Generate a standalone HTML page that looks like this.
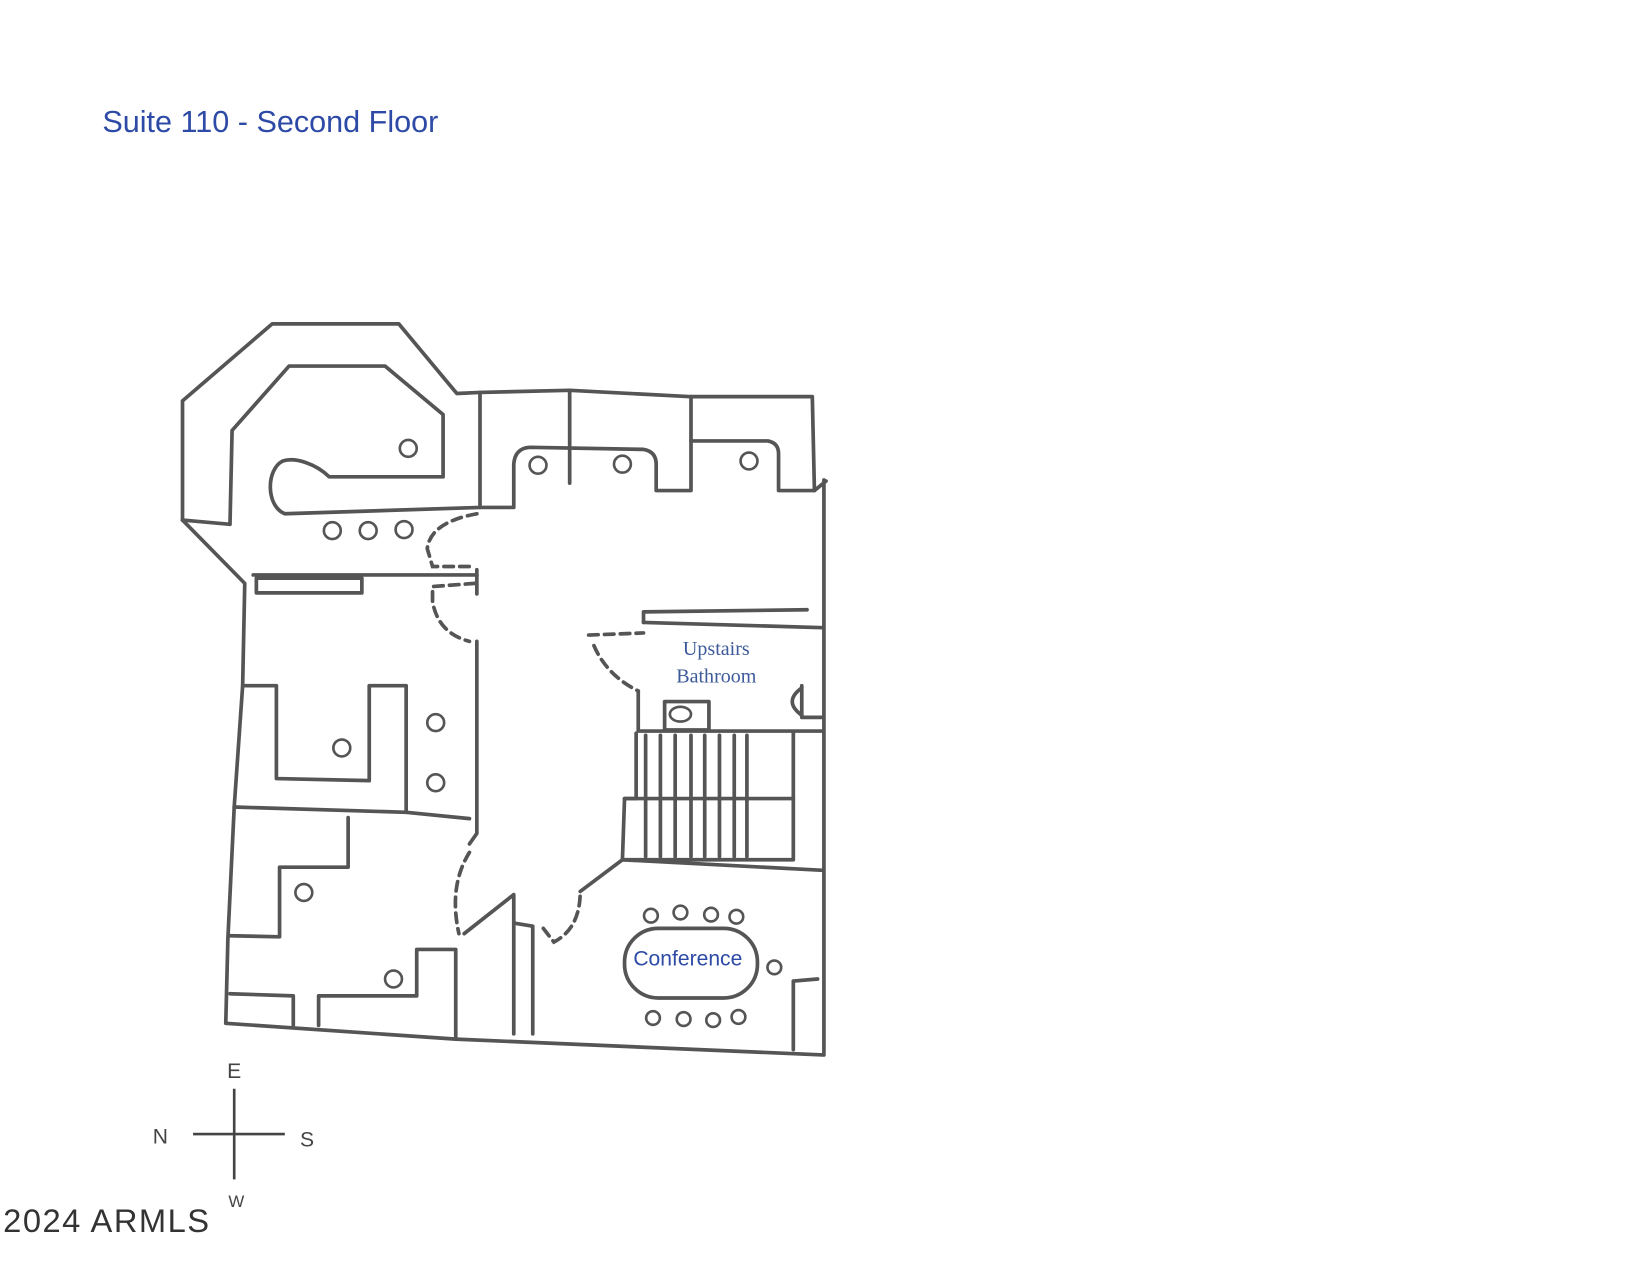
<!DOCTYPE html>
<html><head><meta charset="utf-8"><style>
html,body{margin:0;padding:0;background:#fff;}
svg{display:block;}
</style></head><body>
<svg width="1651" height="1275" viewBox="0 0 1565 1208.6" xmlns="http://www.w3.org/2000/svg">
<rect width="1565" height="1209" fill="#fff"/>
<text x="97" y="125" font-family="Liberation Sans, sans-serif" font-size="29" fill="#2d4aa6">Suite 110 - Second Floor</text>
<g fill="none" stroke="#555" stroke-width="3.5" stroke-linejoin="round" stroke-linecap="round">
<path d="M173,493 L173,380 L258,307 L378,307 L433,373 L455,372 L540,370 L655,376 L770,376 L772,465"/>
<path d="M173,493 L232,553 L230,650 L222,765 L216,890 L214,970 L432,985 L780,1000"/>
<path d="M173,493 L218,497 L220,408 L274,347 L365,347 L420,393 L420,452 L312,452 C300,440 280,433 268,437 C252,445 252,480 270,487 L455,481"/>
<path d="M455,372 L455,481 L487,481 L487,440 Q488,425 502,424 L610,426 Q622,428 622,440 L622,465 L655,465 L655,418 L728,418 Q738,420 738,430 L738,465 L772,465 L783,456"/>
<path d="M540,370 L540,458"/>
<path d="M655,376 L655,418"/>
<path d="M781,455 L781,1000"/>
<path d="M240,545 L452,545"/>
<rect x="243" y="548" width="100" height="14"/>
<path d="M452,540 L452,563"/>
<path d="M452,608 L452,790 L445,800"/>
<path d="M440,885 L487,848 L487,980"/>
<path d="M487,875 L505,878 L505,980"/>
<path d="M550,845 L590,815 L780,825"/>
<path d="M230,650 L262,650 L262,738 L350,740 L350,650 L385,650 L385,770"/>
<path d="M222,765 L385,770 L445,776"/>
<path d="M330,775 L330,822 L265,822 L265,888 L218,887"/>
<path d="M218,942 L278,944 L278,972"/>
<path d="M302,972 L302,944 L395,944 L395,900 L432,900 L432,985"/>
<path d="M610,590 L610,580 L765,578"/>
<path d="M610,590 L780,595"/>
<path d="M605,655 L605,693 L780,693"/>
<rect x="630" y="665" width="42" height="27"/>
<path d="M760,650 L760,680 L780,680"/>
<path d="M760,652 Q742,665 760,678"/>
<path d="M603,695 L603,757 L592,757 L590,815 L752,815 L752,695"/>
<path d="M592,757 L752,757"/>
<path d="M612,697 L612,812 M626,697 L626,812 M640,697 L640,812 M655,697 L655,812 M668,697 L668,812 M682,697 L682,812 M696,697 L696,812 M708,697 L708,812"/>
<path d="M752,995 L752,930 L775,928"/>
<rect x="592" y="880" width="126" height="66" rx="32"/>
</g>
<g fill="none" stroke="#555" stroke-width="3.5" stroke-dasharray="9,6" stroke-linecap="round">
<path d="M452,487 Q408,495 405,520 L410,537 L450,537"/>
<path d="M450,553 L410,556 L410,570 Q415,600 445,608"/>
<path d="M445,808 Q425,840 435,885"/>
<path d="M515,880 L525,893 Q550,880 550,845"/>
<path d="M558,602 L610,600"/>
<path d="M563,612 Q575,640 605,655"/>
</g>
<g fill="#fff" stroke="#555" stroke-width="2.5">
<circle cx="387" cy="425" r="8"/><circle cx="315" cy="503" r="8"/><circle cx="349" cy="503" r="8"/><circle cx="383" cy="502" r="8"/>
<circle cx="510" cy="441" r="8"/><circle cx="590" cy="440" r="8"/><circle cx="710" cy="437" r="8"/>
<circle cx="413" cy="685" r="8"/><circle cx="413" cy="742" r="8"/><circle cx="324" cy="709" r="8"/>
<circle cx="288" cy="846" r="8"/><circle cx="373" cy="928" r="8"/>
<circle cx="617" cy="868" r="6.5"/><circle cx="645" cy="865" r="6.5"/><circle cx="674" cy="867" r="6.5"/><circle cx="698" cy="869" r="6.5"/>
<circle cx="734" cy="917" r="6.5"/>
<circle cx="619" cy="965" r="6.5"/><circle cx="648" cy="966" r="6.5"/><circle cx="676" cy="967" r="6.5"/><circle cx="700" cy="964" r="6.5"/>
<ellipse cx="645" cy="677" rx="10" ry="7"/>
</g>
<g font-family="Liberation Serif, serif" fill="#3c5a9a" font-size="19" text-anchor="middle">
<text x="679" y="621">Upstairs</text>
<text x="679" y="647">Bathroom</text>
</g>
<text x="652" y="915" font-family="Liberation Sans, sans-serif" font-size="20" fill="#2d4aa6" text-anchor="middle">Conference</text>
<g stroke="#444" stroke-width="2.5" fill="none">
<path d="M222,1032 L222,1118 M183,1075 L270,1075"/>
</g>
<g font-family="Liberation Sans, sans-serif" font-size="20" fill="#444" text-anchor="middle">
<text x="222" y="1022">E</text>
<text x="152" y="1084">N</text>
<text x="291" y="1087">S</text>
<text x="224" y="1144" font-size="16">W</text>
</g>
<text x="3" y="1168" font-family="Liberation Sans, sans-serif" font-size="31" fill="#333" letter-spacing="1.4">2024 ARMLS</text>
</svg>
</body></html>
